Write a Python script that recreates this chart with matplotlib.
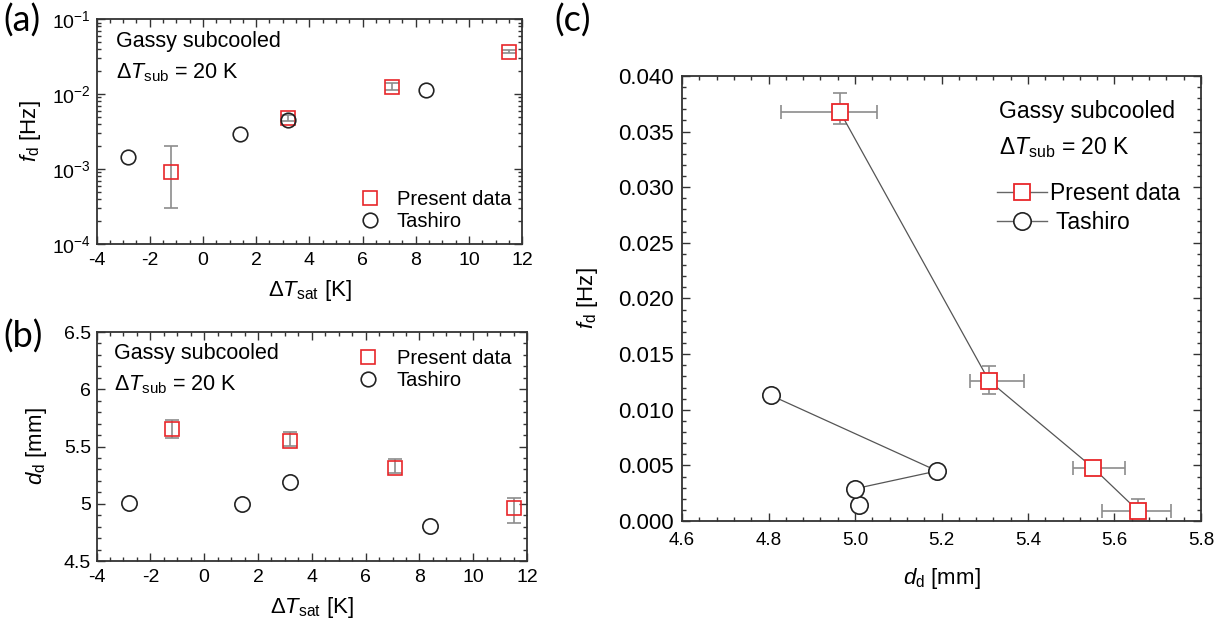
import numpy as np
import matplotlib.pyplot as plt
from matplotlib.ticker import MultipleLocator, LogLocator, NullFormatter, LogFormatterMathtext
from matplotlib.lines import Line2D

plt.rcParams['font.family'] = ['Liberation Sans', 'DejaVu Sans']
plt.rcParams['mathtext.fontset'] = 'custom'
plt.rcParams['mathtext.rm'] = 'Liberation Sans'
plt.rcParams['mathtext.it'] = 'Liberation Sans:italic'
plt.rcParams['axes.unicode_minus'] = False

# present measurements
dT_present = [-1.2, 3.2, 7.1, 11.5]
f_present = [0.0009, 0.0048, 0.0126, 0.0368]
f_err_lo = [0.0006, 0.0004, 0.0012, 0.0011]
f_err_hi = [0.0011, 0.0004, 0.0013, 0.0017]
d_present = [5.655, 5.55, 5.31, 4.965]
d_err_lo = [0.085, 0.045, 0.045, 0.135]
d_err_hi = [0.075, 0.075, 0.08, 0.085]

# Tashiro data
dT_tashiro = [-2.8, 1.4, 3.2, 8.4]
f_tashiro = [0.00145, 0.0029, 0.0045, 0.0113]
d_tashiro = [5.01, 5.00, 5.19, 4.805]

RED = '#e8262a'
ERR = '#8c8c8c'
SPINE = '#333333'
CIRC = '#222222'

note = 'Gassy subcooled\n$\\Delta\\mathit{T}_{\\mathrm{sub}}$ = 20 K'
xlab_dT = '$\\Delta\\mathit{T}_{\\mathrm{sat}}$ [K]'


def style(ax, size):
    for s in ax.spines.values():
        s.set_color(SPINE)
        s.set_linewidth(1.3)
    ax.tick_params(which='both', direction='in', top=True, right=True,
                   colors=SPINE, labelcolor='black', labelsize=size, width=1.0)
    ax.tick_params(which='major', length=6)
    ax.tick_params(which='minor', length=3)


fig = plt.figure(figsize=(12.3, 6.3), dpi=100)

# (a) frequency vs superheat
ax1 = fig.add_axes([0.0785, 0.6127, 0.346, 0.357])
ax1.errorbar(dT_present, f_present, yerr=[f_err_lo, f_err_hi], fmt='none',
             ecolor=ERR, elinewidth=1.2, capsize=5, capthick=1.2, zorder=2)
ax1.plot(dT_present, f_present, 's', ms=10, mfc='none', mec=RED, mew=1.2, zorder=3)
ax1.plot(dT_tashiro, f_tashiro, 'o', ms=10.5, mfc='none', mec=CIRC, mew=1.2, zorder=3)
ax1.set_yscale('log')
ax1.set_xlim(-4, 12)
ax1.set_ylim(1e-4, 1e-1)
ax1.xaxis.set_major_locator(MultipleLocator(2))
ax1.xaxis.set_minor_locator(MultipleLocator(0.5))
ax1.yaxis.set_major_locator(LogLocator(base=10, numticks=10))
ax1.yaxis.set_minor_locator(LogLocator(base=10, subs=np.arange(2, 10), numticks=10))
ax1.yaxis.set_minor_formatter(NullFormatter())
ax1.yaxis.set_major_formatter(LogFormatterMathtext())
style(ax1, 14)
ax1.tick_params(axis='x', pad=6)
ax1.tick_params(axis='y', pad=4)
ax1.set_xlabel(xlab_dT, fontsize=16)
ax1.set_ylabel('$\\mathit{f}_{\\mathrm{d}}$ [Hz]', fontsize=16)
ax1.xaxis.set_label_coords(0.5, -0.15)
ax1.yaxis.set_label_coords(-0.125, 0.5)
ax1.text(0.046, 0.945, note, transform=ax1.transAxes, fontsize=15.5, va='top',
         linespacing=1.55)
h1 = [Line2D([], [], ls='none', marker='s', ms=10, mfc='none', mec=RED, mew=1.2),
      Line2D([], [], ls='none', marker='o', ms=10.5, mfc='none', mec=CIRC, mew=1.2)]
ax1.legend(h1, ['Present data', 'Tashiro'], loc='center left', bbox_to_anchor=(0.618, 0.147),
           frameon=False, fontsize=14.5, handlelength=1.0, handletextpad=0.85,
           borderpad=0, borderaxespad=0, labelspacing=0.15)

# (b) diameter vs superheat
ax2 = fig.add_axes([0.0785, 0.1095, 0.35, 0.3635])
ax2.errorbar(dT_present, d_present, yerr=[d_err_lo, d_err_hi], fmt='none',
             ecolor=ERR, elinewidth=1.2, capsize=5, capthick=1.2, zorder=2)
ax2.plot(dT_present, d_present, 's', ms=10.5, mfc='none', mec=RED, mew=1.2, zorder=3)
ax2.plot(dT_tashiro, d_tashiro, 'o', ms=11, mfc='none', mec=CIRC, mew=1.2, zorder=3)
ax2.set_xlim(-4, 12)
ax2.set_ylim(4.5, 6.5)
ax2.xaxis.set_major_locator(MultipleLocator(2))
ax2.xaxis.set_minor_locator(MultipleLocator(0.5))
ax2.yaxis.set_major_locator(MultipleLocator(0.5))
ax2.yaxis.set_minor_locator(MultipleLocator(0.1))
ax2.yaxis.set_major_formatter(plt.FuncFormatter(lambda v, p: f'{v:g}'))
style(ax2, 14)
ax2.tick_params(axis='x', pad=6)
ax2.tick_params(axis='y', pad=4)
ax2.set_xlabel(xlab_dT, fontsize=16)
ax2.set_ylabel('$\\mathit{d}_{\\mathrm{d}}$ [mm]', fontsize=16)
ax2.xaxis.set_label_coords(0.5, -0.148)
ax2.yaxis.set_label_coords(-0.11, 0.5)
ax2.text(0.04, 0.95, note, transform=ax2.transAxes, fontsize=15.5, va='top',
         linespacing=1.55)
ax2.legend(h1, ['Present data', 'Tashiro'], loc='center left', bbox_to_anchor=(0.608, 0.835),
           frameon=False, fontsize=14.5, handlelength=1.0, handletextpad=0.9,
           borderpad=0, borderaxespad=0, labelspacing=0.15)

# (c) frequency vs diameter
ax3 = fig.add_axes([0.5545, 0.173, 0.4219, 0.7064])
ax3.errorbar(d_present, f_present, xerr=[d_err_lo, d_err_hi], yerr=[f_err_lo, f_err_hi],
             fmt='none', ecolor=ERR, elinewidth=1.2, capsize=5, capthick=1.2, zorder=2)
ax3.plot(d_present, f_present, '-', color='#555555', lw=0.9, zorder=2)
ax3.plot(d_present, f_present, 's', ms=11.5, mfc='white', mec=RED, mew=1.3, zorder=3)
ax3.plot(d_tashiro, f_tashiro, '-', color='#555555', lw=0.9, zorder=2)
ax3.plot(d_tashiro, f_tashiro, 'o', ms=12.5, mfc='white', mec=CIRC, mew=1.2, zorder=3)
ax3.set_xlim(4.6, 5.8)
ax3.set_ylim(0, 0.04)
ax3.xaxis.set_major_locator(MultipleLocator(0.2))
ax3.xaxis.set_minor_locator(MultipleLocator(0.04))
ax3.yaxis.set_major_locator(MultipleLocator(0.005))
ax3.yaxis.set_minor_locator(MultipleLocator(0.001))
ax3.xaxis.set_major_formatter(plt.FuncFormatter(lambda v, p: f'{v:.1f}'))
ax3.yaxis.set_major_formatter(plt.FuncFormatter(lambda v, p: f'{v:.3f}'))
style(ax3, 16)
ax3.tick_params(axis='x', labelsize=13.5, pad=8)
ax3.tick_params(axis='y', pad=6)
ax3.set_xlabel('$\\mathit{d}_{\\mathrm{d}}$ [mm]', fontsize=16)
ax3.set_ylabel('$\\mathit{f}_{\\mathrm{d}}$ [Hz]', fontsize=16)
ax3.xaxis.set_label_coords(0.5, -0.1)
ax3.yaxis.set_label_coords(-0.158, 0.5)
ax3.text(0.611, 0.945, note, transform=ax3.transAxes, fontsize=16.5, va='top',
         linespacing=1.6)
h3 = [Line2D([], [], color='#666666', lw=1.0, marker='s', ms=11.5, mfc='white', mec=RED, mew=1.3),
      Line2D([], [], color='#666666', lw=1.0, marker='o', ms=12.5, mfc='white', mec=CIRC, mew=1.2)]
ax3.legend(h3, ['Present data', ' Tashiro'], loc='center left', bbox_to_anchor=(0.607, 0.7035),
           frameon=False, fontsize=16.5, handlelength=2.2, handletextpad=0.1,
           borderpad=0, borderaxespad=0, labelspacing=0.25)

# panel labels
for x, y, s in [(0.003, 0.968, '(a)'), (0.003, 0.466, '(b)'), (0.451, 0.968, '(c)')]:
    fig.text(x, y, s, fontsize=26, family=['Lato', 'DejaVu Sans'], va='center')

fig.savefig('out.png', dpi=100)
